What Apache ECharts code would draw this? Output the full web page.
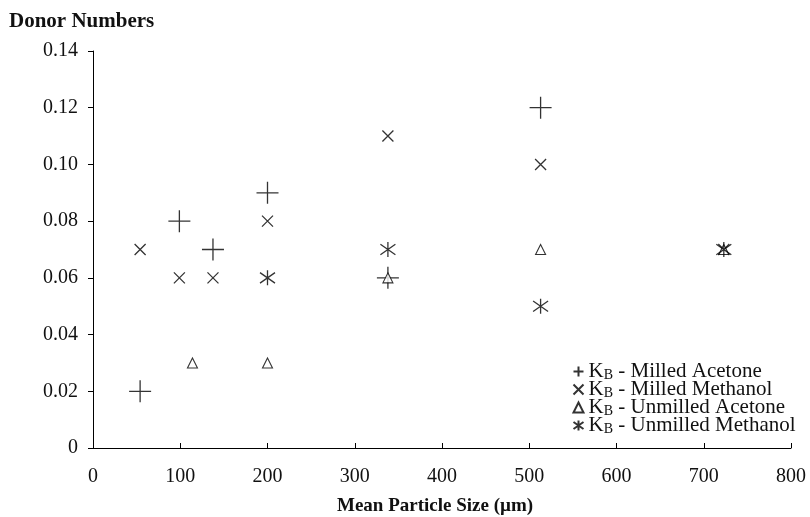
<!DOCTYPE html>
<html><head><meta charset="utf-8">
<script src="https://cdn.jsdelivr.net/npm/echarts@6/dist/echarts.min.js"></script>
<style>html,body{margin:0;padding:0;background:#fff}#c{width:810px;height:517px}</style>
</head><body><div id="c"></div>
<script>
// Data (x = mean particle size µm, y = donor number)
const seriesNames = ['Milled Acetone', 'Milled Methanol', 'Unmilled Acetone', 'Unmilled Methanol'];
const milledAcetone = [[54, 0.02], [99, 0.08], [137.5, 0.07], [200, 0.09], [338, 0.06], [513, 0.12]];
const milledMethanol = [[54, 0.07], [99, 0.06], [137.5, 0.06], [200, 0.08], [338, 0.11], [513, 0.10], [723, 0.07]];
const unmilledAcetone = [[114, 0.03], [200, 0.03], [338, 0.06], [513, 0.07], [723, 0.07]];
const unmilledMethanol = [[200, 0.06], [338, 0.07], [513, 0.05], [723, 0.07]];
const xTicks = [0, 100, 200, 300, 400, 500, 600, 700, 800];
const yTicks = [0, 0.02, 0.04, 0.06, 0.08, 0.10, 0.12, 0.14];

const FONT = 'Liberation Serif';
const chart = echarts.init(document.getElementById('c'), null, {renderer: 'canvas'});

const lineStyle = {color: 'none', borderColor: '#000', borderWidth: 1.3};
const sym = {
  plus: 'path://M0,5L10,5M5,0L5,10',
  cross: 'path://M0,0L10,10M0,10L10,0',
  star: 'path://M5,0L5,10M0,1.5L10,8.5M0,8.5L10,1.5'
};

chart.setOption({
  animation: false,
  backgroundColor: '#fff',
  grid: {left: 93, right: 19, top: 51, bottom: 69, containLabel: false},
  xAxis: {
    type: 'value', min: xTicks[0], max: xTicks[xTicks.length - 1], interval: 100,
    axisLine: {show: true, lineStyle: {color: '#000', width: 1}},
    axisTick: {show: true, inside: true, length: 5, lineStyle: {color: '#000'}},
    axisLabel: {fontFamily: FONT, fontSize: 20, color: '#111', margin: 19},
    splitLine: {show: false}
  },
  yAxis: {
    type: 'value', min: yTicks[0], max: yTicks[yTicks.length - 1], interval: 0.02,
    axisLine: {show: true, lineStyle: {color: '#000', width: 1}},
    axisTick: {show: true, inside: false, length: 5, lineStyle: {color: '#000'}},
    axisLabel: {fontFamily: FONT, fontSize: 20, color: '#111', margin: 15,
      formatter: v => v === 0 ? '0' : v.toFixed(2)},
    splitLine: {show: false}
  },
  legend: {
    orient: 'vertical', left: 571, top: 361, padding: 0, itemGap: -3,
    itemWidth: 10, itemHeight: 10,
    data: seriesNames,
    formatter: n => '{k|K}{s|B}{t| - ' + n + '}',
    textStyle: {
      fontFamily: FONT, fontSize: 21, color: '#111', lineHeight: 18.5,
      rich: {
        k: {fontFamily: FONT, fontSize: 21, color: '#111', lineHeight: 18.5},
        s: {fontFamily: FONT, fontSize: 14, color: '#111', lineHeight: 18.5, padding: [7, 0, 0, 0]},
        t: {fontFamily: FONT, fontSize: 21, color: '#111', lineHeight: 18.5}
      }
    }
  },
  graphic: [
    {type: 'text', left: 9, top: 11, style: {text: 'Donor Numbers', fontFamily: FONT, fontWeight: 'bold', fontSize: 21, fill: '#111'}},
    {type: 'text', left: 337, top: 497, style: {text: 'Mean Particle Size (\u00b5m)', fontFamily: FONT, fontWeight: 'bold', fontSize: 19, fill: '#111'}}
  ],
  series: [
    {name: seriesNames[0], type: 'scatter', data: milledAcetone, symbol: sym.plus, symbolSize: 22, itemStyle: lineStyle, z: 2},
    {name: seriesNames[1], type: 'scatter', data: milledMethanol, symbol: sym.cross, symbolSize: 11, itemStyle: lineStyle, z: 2},
    {name: seriesNames[2], type: 'scatter', data: unmilledAcetone, symbol: 'triangle', symbolSize: 10, itemStyle: {color: '#fff', borderColor: '#000', borderWidth: 1.1}, z: 3},
    {name: seriesNames[3], type: 'scatter', data: unmilledMethanol, symbol: sym.star, symbolSize: 15, itemStyle: lineStyle, z: 4}
  ]
});
</script>
</body></html>
